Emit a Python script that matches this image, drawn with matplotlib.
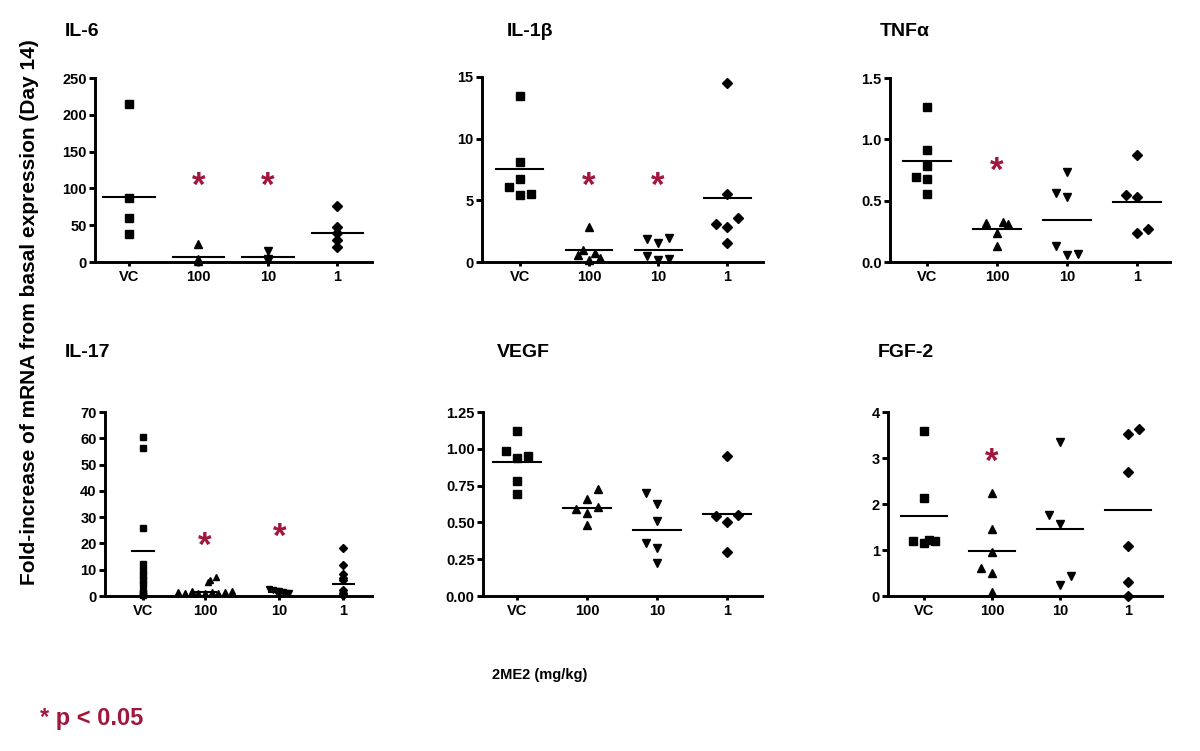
import matplotlib
matplotlib.use("Agg")
import matplotlib.pyplot as plt
from matplotlib.transforms import offset_copy

plt.rcParams['font.family'] = ['Liberation Sans', 'DejaVu Sans']
plt.rcParams['font.weight'] = 'bold'

groups = ["VC", "100", "10", "1"]
markers = ["s", "^", "v", "D"]
star_red = "#a0163c"

# values read per group: VC, 100, 10, 1
il6 = [[214, 87, 60, 38], [24, 4, 1], [15, 4, 1], [76, 47, 39, 30, 20]]
il6_line = [88, 7, 7, 39]
il6_star = [(1, 109), (2, 109)]

il1b = [[13.5, 8.1, 6.7, 6.1, 5.4, 5.5],
        [2.8, 0.95, 0.6, 0.7, 0.2, 0.35],
        [1.85, 1.55, 1.95, 0.5, 0.2, 0.25],
        [14.5, 5.55, 3.57, 3.1, 2.8, 1.54]]
il1b_line = [7.57, 1.0, 1.0, 5.2]
il1b_star = [(1, 6.5), (2, 6.5)]

tnfa = [[1.265, 0.913, 0.784, 0.69, 0.675, 0.554],
        [0.32, 0.33, 0.31, 0.24, 0.13],
        [0.735, 0.56, 0.527, 0.127, 0.054, 0.062],
        [0.87, 0.549, 0.527, 0.265, 0.235]]
tnfa_line = [0.82, 0.27, 0.34, 0.49]
tnfa_star = [(1, 0.78)]

il17 = [[60.5, 56.3, 26, 12, 10, 8, 6, 4, 1.5, 1, 0.5],
        [1.5, 1.2, 1.8, 1.0, 1.3, 1.6, 1.1, 1.4, 1.9, 5.4, 6.1, 7.3],
        [2.5, 2.2, 2.0, 1.8, 1.5, 1.2, 1.0, 0.8],
        [18.4, 11.8, 8.2, 7.0, 6.0, 2.3, 1.0, 0.5, 0.2]]
il17_line = [17.2, 1.5, 1.6, 4.6]
il17_star = [(1, 20.9), (2, 24.2)]

vegf = [[1.12, 0.983, 0.94, 0.954, 0.78, 0.696],
        [0.726, 0.662, 0.588, 0.567, 0.606, 0.48],
        [0.70, 0.628, 0.509, 0.357, 0.323, 0.222],
        [0.949, 0.542, 0.504, 0.552, 0.296]]
vegf_line = [0.91, 0.60, 0.45, 0.56]
vegf_star = []

fgf2 = [[3.59, 2.13, 1.19, 1.16, 1.21, 1.19],
        [2.23, 1.45, 0.955, 0.6, 0.5, 0.09],
        [3.34, 1.76, 1.57, 0.43, 0.23],
        [3.53, 3.63, 2.69, 1.08, 0.30, 0.01]]
fgf2_line = [1.75, 0.98, 1.46, 1.87]
fgf2_star = [(1, 3.02)]

# horizontal spread of overlapping points (in marker slots)
il6_off = [[0, 0, 0, 0], [0, 0, 0], [0, 0, 0], [0, 0, 0, 0, 0]]
il1b_off = [[0, 0, 0, -1, 0, 1], [0, -0.5, -1, 0.5, 0, 1],
            [-1, 0, 1, -1, 0, 1], [0, 0, 1, -1, 0, 0]]
tnfa_off = [[0, 0, 0, -1, 0, 0], [-1, 0.5, 1, 0, 0],
            [0, -1, 0, -1, 0, 1], [0, -1, 0, 1, 0]]
il17_off = [[0] * 11,
            [-4, -3, -2, -1, 0, 1, 2, 3, 4, 0.5, 0.8, 1.7],
            [-1.5, -1, -0.5, 0, 0.5, 1, 1.5, 0],
            [0] * 9]
vegf_off = [[0, -1, 0, 1, 0, 0], [1, 0, -1, 0, 1, 0],
            [-1, 0, 0, -1, 0, 0], [0, -1, 0, 1, 0]]
fgf2_off = [[0, 0, -1, 0, 0.5, 1], [0, 0, 0, -1, 0, 0],
            [0, -1, 0, 1, 0], [0, 1, 0, 0, 0, 0]]

W, H = 1200, 751
fig = plt.figure(figsize=(12, 7.51), dpi=100)

panels = [
    ("IL-6", il6, il6_line, il6_star, il6_off, [0, 50, 100, 150, 200, 250], "{:.0f}",
     (95, 262, 372, 78), (-0.49, 3.5), [0, 1, 2, 3], 0.16, 0.37, (65, 32)),
    ("IL-1β", il1b, il1b_line, il1b_star, il1b_off, [0, 5, 10, 15], "{:.0f}",
     (482, 262, 763, 77), (-0.55, 3.52), [0, 1, 2, 3], 0.16, 0.34, (507, 32)),
    ("TNFα", tnfa, tnfa_line, tnfa_star, tnfa_off, [0, 0.5, 1.0, 1.5], "{:.1f}",
     (890, 262, 1170, 78), (-0.53, 3.47), [0, 1, 2, 3], 0.16, 0.34, (880, 32)),
    ("IL-17", il17, il17_line, il17_star, il17_off, [0, 10, 20, 30, 40, 50, 60, 70], "{:.0f}",
     (105, 596, 372, 412), (-0.57, 3.43), [0, 0.93, 2.04, 3.0], 0.1, 0.16, (65, 353)),
    ("VEGF", vegf, vegf_line, vegf_star, vegf_off, [0, 0.25, 0.5, 0.75, 1.0, 1.25], "{:.2f}",
     (483, 596, 762, 412), (-0.49, 3.5), [0, 1, 2, 3], 0.16, 0.34, (497, 353)),
    ("FGF-2", fgf2, fgf2_line, fgf2_star, fgf2_off, [0, 1, 2, 3, 4], "{:.0f}",
     (888, 596, 1162, 412), (-0.53, 3.5), [0, 1, 2, 3], 0.16, 0.34, (878, 353)),
]

for title, data, lines, stars, offs, yticks, fmt, rect, xlim, pos, slot, half, tpos in panels:
    l, b, r, t = rect
    ax = fig.add_axes([l / W, 1 - b / H, (r - l) / W, (b - t) / H])
    ms = 5.0 if title == "IL-17" else 6.0
    for g in range(4):
        xs = [pos[g] + o * slot for o in offs[g]]
        size = ms - 1.3 if markers[g] == "D" else ms
        ax.plot(xs, data[g], linestyle="none", marker=markers[g], ms=size,
                color="black", clip_on=False, zorder=3)
        ax.plot([pos[g] - half, pos[g] + half], [lines[g], lines[g]],
                color="black", lw=1.5, zorder=2)
    star_tr = offset_copy(ax.transData, fig=fig, y=-5, units="dots")
    for g, y in stars:
        ax.text(pos[g], y, "*", color=star_red, fontsize=25, fontweight="bold",
                ha="center", va="center", transform=star_tr)
    ax.set_xlim(*xlim)
    ax.set_ylim(0, yticks[-1])
    ax.set_yticks(yticks)
    ax.set_yticklabels([fmt.format(v) for v in yticks])
    ax.set_xticks(pos)
    ax.set_xticklabels(groups)
    for s in ["top", "right"]:
        ax.spines[s].set_visible(False)
    for s in ["left", "bottom"]:
        ax.spines[s].set_linewidth(2.1)
    ax.tick_params(axis="y", length=4, width=2.1, labelsize=10.5, pad=2)
    ax.tick_params(axis="x", length=3, width=2.1, labelsize=10.5, pad=3)
    fig.text(tpos[0] / W, 1 - tpos[1] / H, title, fontsize=14, fontweight="bold",
             ha="left", va="center")

fig.text(30 / W, 1 - 312 / H, "Fold-increase of mRNA from basal expression (Day 14)",
         rotation=90, fontsize=15, fontweight="bold", ha="center", va="center")
fig.text(540 / W, 1 - 675 / H, "2ME2 (mg/kg)", fontsize=10.5, fontweight="bold",
         ha="center", va="center")
fig.text(40 / W, 1 - 718 / H, "* p < 0.05", fontsize=17, fontweight="bold",
         color=star_red, ha="left", va="center")

fig.savefig("out.png", dpi=100)
